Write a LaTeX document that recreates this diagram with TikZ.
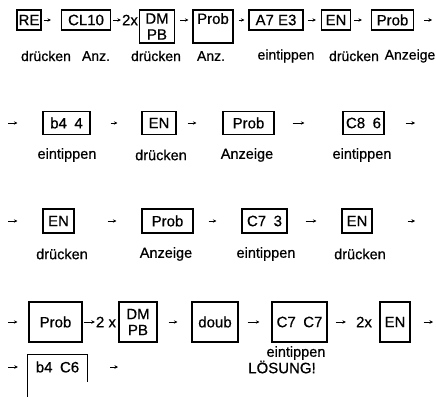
\documentclass[tikz,border=0pt]{standalone}
\usepackage{fontspec}
\setmainfont{Liberation Sans}[FakeBold=0.6]
\usetikzlibrary{arrows.meta}
\newcommand{\keyfont}{\fontsize{15}{16}\selectfont}
\newcommand{\labfont}{\fontsize{14.5}{16}\selectfont}
\begin{document}
\begin{tikzpicture}[x=1pt, y=-1pt,
  key/.style={draw, line width=1.1pt, inner sep=0pt, font=\keyfont, align=center},
  lab/.style={inner sep=0pt, font=\labfont},
  times/.style={inner sep=0pt, font=\keyfont},
  arrow/.style={-{Stealth[length=3.5pt, width=3.5pt]}, line width=0.9pt},
]
\useasboundingbox (0,0) rectangle (436,396);

% === ROW 1 ===
\coordinate (r1) at (0,20);
\node[key, minimum width=24, minimum height=20] (re) at (29,20) {RE};
\node[key, minimum width=49, minimum height=20] (cl10) at (86,20) {CL10};
\node[times] (x1) at (130,20) {2x};
\node[key, minimum width=35, minimum height=33] (dmpb1) at (157,26.5) {DM\\PB};
\node[key, minimum width=40, minimum height=33] (prob1) at (213,26.5) {Prob\\\phantom{PB}};
\node[key, minimum width=54, minimum height=20] (a7e3) at (276,20) {A7 E3};
\node[key, minimum width=29, minimum height=20] (en1) at (336,20) {EN};
\node[key, minimum width=42, minimum height=20] (prob2) at (392.5,20) {Prob};
\coordinate (e1) at (432,20);

\draw[arrow, shorten <=2pt, shorten >=10pt] (re.east |- r1) -- (cl10.west |- r1);
\draw[arrow, shorten <=2pt, shorten >=1pt] (cl10.east |- r1) -- (x1.west |- r1);
\draw[arrow, shorten <=5pt, shorten >=4pt] (dmpb1.east |- r1) -- (prob1.west |- r1);
\draw[arrow, shorten <=5pt, shorten >=4pt] (prob1.east |- r1) -- (a7e3.west |- r1);
\draw[arrow, shorten <=4pt, shorten >=5pt] (a7e3.east |- r1) -- (en1.west |- r1);
\draw[arrow, shorten <=3pt, shorten >=9pt] (en1.east |- r1) -- (prob2.west |- r1);
\draw[arrow, shorten <=10pt] (prob2.east |- r1) -- (e1);

\node[lab, font=\fontsize{14}{16}\selectfont] (l11) at (46,56) {drücken};
\node[lab, font=\fontsize{14}{16}\selectfont] (l12) at (96,56) {Anz.};
\node[lab, font=\fontsize{14}{16}\selectfont] (l13) at (156,56) {drücken};
\node[lab, font=\fontsize{14}{16}\selectfont] (l14) at (211,56) {Anz.};
\node[lab, font=\fontsize{14}{16}\selectfont] (l15) at (286,56) {eintippen};
\node[lab, font=\fontsize{14}{16}\selectfont] (l16) at (354,56) {drücken};
\node[lab, font=\fontsize{14}{16}\selectfont] (l17) at (410,56) {Anzeige};

% === ROW 2 ===
\coordinate (s2) at (8,123);
\node[key, minimum width=47, minimum height=23] (b44) at (66.5,123) {b4\hspace{0.5em}4};
\node[key, minimum width=34, minimum height=23] (en2) at (159,123) {EN};
\node[key, minimum width=51, minimum height=23] (prob3) at (248.5,123) {Prob};
\node[key, minimum width=41, minimum height=23] (c86) at (363.5,123) {C8\hspace{0.5em}6};
\coordinate (e2) at (415,123);

\draw[arrow, shorten >=25pt] (s2) -- (b44.west |- s2);
\draw[arrow, shorten <=20pt, shorten >=24pt] (b44.east |- s2) -- (en2.west |- s2);
\draw[arrow, shorten <=11pt, shorten >=26pt] (en2.east |- s2) -- (prob3.west |- s2);
\draw[arrow, shorten <=18pt, shorten >=38pt] (prob3.east |- s2) -- (c86.west |- s2);
\draw[arrow, shorten <=21pt] (c86.east |- s2) -- (e2);

\node[lab] (l21) at (67,155) {eintippen};
\node[lab] (l22) at (161,155) {drücken};
\node[lab] (l23) at (247,155) {Anzeige};
\node[lab] (l24) at (362,155) {eintippen};

% === ROW 3 ===
\coordinate (s3) at (8,221);
\node[key, minimum width=31, minimum height=24] (en3) at (58.5,221) {EN};
\node[key, minimum width=51, minimum height=24] (prob4) at (167.5,221) {Prob};
\node[key, minimum width=45, minimum height=24] (c73) at (264.5,221) {C7\hspace{0.5em}3};
\node[key, minimum width=30, minimum height=24] (en4) at (357,221) {EN};
\coordinate (e3) at (415,221);

\draw[arrow, shorten >=25pt] (s3) -- (en3.west |- s3);
\draw[arrow, shorten <=33pt, shorten >=25pt] (en3.east |- s3) -- (prob4.west |- s3);
\draw[arrow, shorten <=15pt, shorten >=25pt] (prob4.east |- s3) -- (c73.west |- s3);
\draw[arrow, shorten <=18pt, shorten >=25pt] (c73.east |- s3) -- (en4.west |- s3);
\draw[arrow, shorten <=35pt] (en4.east |- s3) -- (e3);

\node[lab] (l31) at (62,254) {drücken};
\node[lab] (l32) at (166,254) {Anzeige};
\node[lab] (l33) at (266,254) {eintippen};
\node[lab] (l34) at (360,254) {drücken};

% === ROW 4 ===
\coordinate (s4) at (8,322);
\node[key, minimum width=53, minimum height=40] (prob5) at (55.5,322) {Prob};
\node[times] (x2) at (106,322) {2 x};
\node[key, minimum width=38, minimum height=40, font=\fontsize{15}{16}\selectfont] (dmpb2) at (138,322) {DM\\PB};
\node[key, minimum width=46, minimum height=40] (doub) at (215,322) {doub};
\node[key, minimum width=55, minimum height=40] (c7c7) at (299.5,322) {C7\hspace{0.5em}C7};
\node[times] (x3) at (364,322) {2x};
\node[key, minimum width=30, minimum height=40] (en5) at (395,322) {EN};
\coordinate (e4) at (433,322);

\draw[arrow, shorten >=11pt] (s4) -- (prob5.west |- s4);
\draw[arrow, shorten <=1pt, shorten >=1pt] (prob5.east |- s4) -- (x2.west |- s4);
\draw[arrow, shorten <=11pt, shorten >=14pt] (dmpb2.east |- s4) -- (doub.west |- s4);
\draw[arrow, shorten <=9pt, shorten >=12pt] (doub.east |- s4) -- (c7c7.west |- s4);
\draw[arrow, shorten <=8pt, shorten >=10pt] (c7c7.east |- s4) -- (x3.west |- s4);
\draw[arrow, shorten <=13pt] (en5.east |- s4) -- (e4);

\node[lab] (l41) at (296,353) {eintippen};

% === ROW 5 ===
\coordinate (s5) at (8,367);
\node[inner sep=0pt, font=\keyfont, minimum width=59, minimum height=24] (b4c6) at (57.5,367) {b4\hspace{0.5em}C6};
\draw[line width=1.1pt] ([yshift=-30pt]b4c6.south west) -- (b4c6.north west) -- (b4c6.north east) -- ([yshift=-3pt]b4c6.south east);
\coordinate (e5) at (118,367);
\node[lab, font=\keyfont] (loesung) at (282,367) {LÖSUNG!};

\draw[arrow, shorten >=10pt] (s5) -- (b4c6.west |- s5);
\draw[arrow, shorten <=23pt] (b4c6.east |- s5) -- (e5);
\end{tikzpicture}
\end{document}
